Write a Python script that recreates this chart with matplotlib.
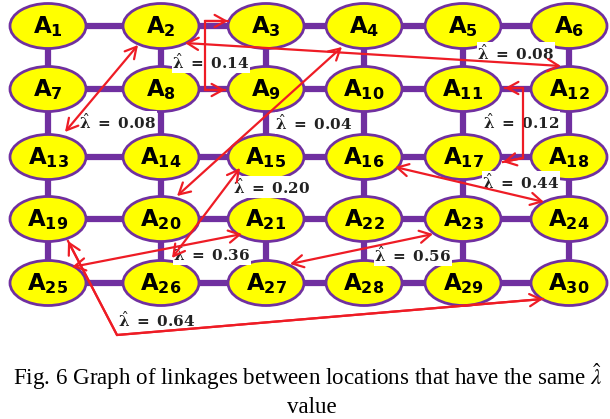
import matplotlib.pyplot as plt
from matplotlib.patches import Ellipse

# grid of locations A1..A30 (5 rows x 6 columns)
n_rows, n_cols = 5, 6
node_ids = list(range(1, 31))

# linked pairs and their lambda-hat values
link_a = [2, 3, 2, 4, 15, 25, 27, 16, 11, 19]
link_b = [13, 9, 12, 20, 26, 21, 23, 24, 17, 30]
link_lambda = [0.08, 0.14, 0.08, 0.04, 0.20, 0.36, 0.56, 0.44, 0.12, 0.64]

# layout (pixel positions of rows / columns)
col_x = [48, 161, 266, 364, 463, 569]
row_y = [26, 89, 157, 219, 283]

# arrow routes as (node, dx, dy) offsets from node centres
routes = [
    [(2, -23, 19), (13, 17, -25)],
    [(3, -38, -5), (3, -61, -5), (9, -61, 1), (9, -41, 1)],
    [(2, 24, 17), (12, -8, -23)],
    [(4, -22, 21), (20, 16, -23)],
    [(15, -26, 11), (26, 11, -25)],
    [(25, 24, -16), (21, -24, 15)],
    [(27, 24, -19), (23, -30, 15)],
    [(16, 31, 10), (24, -25, -17)],
    [(11, 42, -1), (11, 60, -1), (17, 60, 1), (17, 40, 5)],
    [(19, 20, 22), (25, 69, 52), (30, -26, 16)],
]
# label centres
label_xy = [(118, 122), (211, 62), (516, 53), (314, 123), (271, 187),
            (212, 254), (413, 255), (521, 182), (521, 122), (157, 320)]

purple = '#7030A0'
yellow = '#FFFF00'
red = '#EE1C25'


def pos(n):
    r, c = divmod(n - 1, n_cols)
    return col_x[c], row_y[r]


fig = plt.figure(figsize=(6.10, 4.19), dpi=100)
ax = fig.add_axes([0, 0, 1, 1])
ax.set_xlim(0, 610)
ax.set_ylim(419, 0)
ax.axis('off')

# purple grid
for y in row_y:
    ax.plot([col_x[0], col_x[-1]], [y, y], color=purple, lw=4.5, zorder=1)
for x in col_x:
    ax.plot([x, x], [row_y[0], row_y[-1]], color=purple, lw=4.5, zorder=1)

# nodes
for n in node_ids:
    x, y = pos(n)
    ax.add_patch(Ellipse((x, y), 76, 45, facecolor=yellow, edgecolor=purple,
                         lw=2, zorder=2))
    ax.text(x, y + 1, r'$\mathbf{A}_{\mathbf{%d}}$' % n, ha='center', va='center',
            fontsize=16.5, math_fontfamily='dejavusans', zorder=3)

# lambda labels
for (lx, ly), lam in zip(label_xy, link_lambda):
    ax.text(lx, ly, r'$\hat{\mathbf{\lambda}}\mathbf{\ =\ %.2f}$' % lam, ha='center',
            va='center', fontsize=11, math_fontfamily='dejavuserif', color='#222222',
            bbox=dict(facecolor='white', edgecolor='none', pad=0.5), zorder=4)

# red linkage arrows
for route in routes:
    pts = []
    for n, dx, dy in route:
        x, y = pos(n)
        pts.append((x + dx, y + dy))
    props = dict(color=red, lw=1.6, shrinkA=0, shrinkB=0, mutation_scale=20)
    if len(pts) == 2:
        ax.annotate('', xy=pts[1], xytext=pts[0], zorder=5,
                    arrowprops=dict(arrowstyle='<->,head_length=0.4,head_width=0.22', **props))
    else:
        ax.plot([p[0] for p in pts], [p[1] for p in pts], color=red, lw=1.6, zorder=5,
                solid_joinstyle='miter')
        ax.annotate('', xy=pts[0], xytext=pts[1], zorder=5,
                    arrowprops=dict(arrowstyle='->,head_length=0.4,head_width=0.22', **props))
        ax.annotate('', xy=pts[-1], xytext=pts[-2], zorder=5,
                    arrowprops=dict(arrowstyle='->,head_length=0.4,head_width=0.22', **props))

# caption
fig.text(13 / 610, 1 - 385 / 419,
         r'Fig. 6 Graph of linkages between locations that have the same $\hat{\lambda}$',
         fontfamily='Liberation Serif', fontsize=16.6, math_fontfamily='stix',
         ha='left', va='baseline')
fig.text(312 / 610, 1 - 413 / 419, 'value', fontfamily='Liberation Serif', fontsize=16.6,
         ha='center', va='baseline')

fig.savefig('out.png', dpi=100)
